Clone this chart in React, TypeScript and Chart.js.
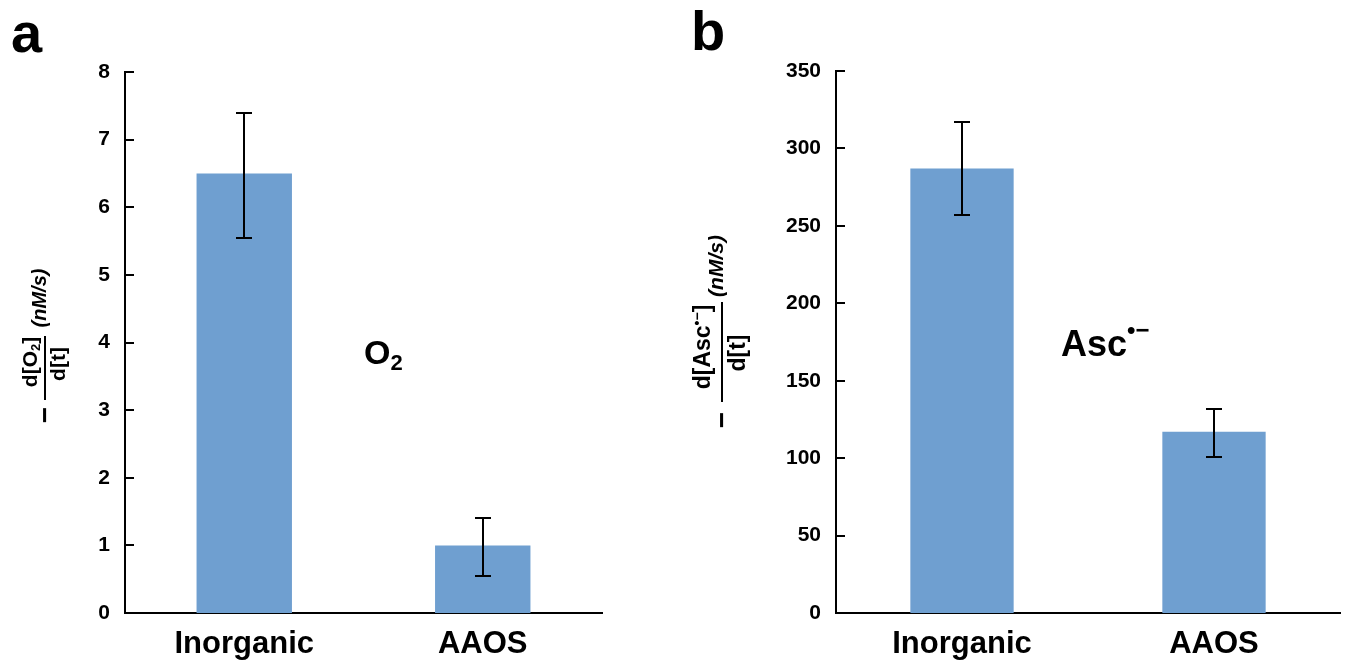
import React, { useEffect, useRef } from "react";
import { Chart, registerables } from "chart.js";

Chart.register(...registerables);

// ---------- data ----------
const categories = ["Inorganic", "AAOS"];

const o2Values = [6.5, 1.0];
const o2ErrLow = [5.55, 0.55];
const o2ErrHigh = [7.4, 1.4];
const o2Max = 8;
const o2Step = 1;

const ascValues = [287, 117];
const ascErrLow = [257, 101];
const ascErrHigh = [317, 132];
const ascMax = 350;
const ascStep = 50;

// ---------- styles ----------
const FONT = "'Liberation Sans', Arial, Helvetica, sans-serif";
const BAR_COLOR = "#6f9fd0";

type Seg = { t: string; size: number; dy?: number; italic?: boolean };

function segFont(s: Seg) {
  return `${s.italic ? "italic " : ""}bold ${s.size}px ${FONT}`;
}
function richWidth(ctx: CanvasRenderingContext2D, segs: Seg[]) {
  let w = 0;
  for (const s of segs) {
    ctx.font = segFont(s);
    w += ctx.measureText(s.t).width;
  }
  return w;
}
function drawRich(ctx: CanvasRenderingContext2D, segs: Seg[], x: number, y: number) {
  let cx = x;
  ctx.textBaseline = "alphabetic";
  ctx.textAlign = "left";
  for (const s of segs) {
    ctx.font = segFont(s);
    ctx.fillText(s.t, cx, y + (s.dy || 0));
    cx += ctx.measureText(s.t).width;
  }
}
function drawRichCentered(ctx: CanvasRenderingContext2D, segs: Seg[], cx: number, y: number) {
  const w = richWidth(ctx, segs);
  drawRich(ctx, segs, cx - w / 2, y);
}

type FracSpec = {
  cx: number;
  cy: number;
  lineHalf: number;
  num: Seg[];
  numU: number;
  numV: number;
  den: Seg[];
  denU: number;
  denV: number;
  unit: Seg[];
  unitU: number;
  unitV: number;
  minusU: number;
  minusSize: number;
};

function drawFraction(ctx: CanvasRenderingContext2D, f: FracSpec) {
  ctx.save();
  ctx.translate(f.cx, f.cy);
  ctx.rotate(-Math.PI / 2);
  ctx.fillStyle = "#000";
  ctx.strokeStyle = "#000";
  ctx.lineWidth = 2;
  ctx.beginPath();
  ctx.moveTo(-f.lineHalf, 0);
  ctx.lineTo(f.lineHalf, 0);
  ctx.stroke();
  drawRichCentered(ctx, f.num, f.numU, f.numV);
  drawRichCentered(ctx, f.den, f.denU, f.denV);
  drawRichCentered(ctx, f.unit, f.unitU, f.unitV);
  drawRichCentered(ctx, [{ t: "\u2212", size: f.minusSize }], f.minusU, f.minusSize * 0.32);
  ctx.restore();
}

type PanelProps = {
  left: number;
  width: number;
  values: number[];
  errLow: number[];
  errHigh: number[];
  max: number;
  step: number;
  pad: { left: number; top: number; right: number };
  barPct: number;
  decorate: (ctx: CanvasRenderingContext2D) => void;
};

function Panel(p: PanelProps) {
  const ref = useRef<HTMLCanvasElement>(null);
  useEffect(() => {
    const canvas = ref.current;
    if (!canvas) return;
    const deco = {
      id: "deco",
      afterDatasetsDraw(chart: any) {
        const ctx: CanvasRenderingContext2D = chart.ctx;
        const y = chart.scales.y;
        const meta = chart.getDatasetMeta(0);
        ctx.save();
        ctx.strokeStyle = "#000";
        ctx.lineWidth = 2;
        meta.data.forEach((bar: any, i: number) => {
          const x = Math.round(bar.x);
          const yh = Math.round(y.getPixelForValue(p.errHigh[i]));
          const yl = Math.round(y.getPixelForValue(p.errLow[i]));
          ctx.beginPath();
          ctx.moveTo(x, yh);
          ctx.lineTo(x, yl);
          ctx.moveTo(x - 8, yh);
          ctx.lineTo(x + 8, yh);
          ctx.moveTo(x - 8, yl);
          ctx.lineTo(x + 8, yl);
          ctx.stroke();
        });
        const ax = chart.chartArea.left;
        y.ticks.forEach((t: any) => {
          const py = Math.round(y.getPixelForValue(t.value));
          ctx.beginPath();
          ctx.moveTo(ax, py);
          ctx.lineTo(ax + 9, py);
          ctx.stroke();
        });
        ctx.restore();
      },
      afterDraw(chart: any) {
        const ctx: CanvasRenderingContext2D = chart.ctx;
        ctx.save();
        p.decorate(ctx);
        ctx.restore();
      },
    };
    const chart = new Chart(canvas, {
      type: "bar",
      data: {
        labels: categories,
        datasets: [
          {
            data: p.values,
            backgroundColor: BAR_COLOR,
            borderWidth: 0,
            barPercentage: p.barPct,
            categoryPercentage: 1,
          },
        ],
      },
      options: {
        animation: false,
        responsive: false,
        maintainAspectRatio: false,
        events: [],
        layout: { padding: { left: p.pad.left, top: p.pad.top, right: p.pad.right, bottom: 0 } },
        plugins: {
          legend: { display: false },
          tooltip: { enabled: false },
          title: { display: false },
        },
        scales: {
          x: {
            grid: { display: false, drawTicks: false },
            border: { display: true, color: "#000", width: 2 },
            ticks: {
              color: "#000",
              font: { family: FONT, size: 31, weight: "bold" },
              padding: 13,
              maxRotation: 0,
            },
            afterFit: (s: any) => {
              s.height = 53;
            },
          },
          y: {
            min: 0,
            max: p.max,
            grid: { display: false, drawTicks: false },
            border: { display: true, color: "#000", width: 2 },
            ticks: {
              stepSize: p.step,
              color: "#000",
              font: { family: FONT, size: 21, weight: "bold" },
              padding: 15,
            },
            afterFit: (s: any) => {
              s.width = 60;
            },
          },
        },
      } as any,
      plugins: [deco],
    });
    return () => chart.destroy();
  }, []);
  return (
    <canvas
      ref={ref}
      width={p.width}
      height={666}
      style={{ position: "absolute", left: p.left, top: 0, width: p.width, height: 666 }}
    />
  );
}

function decorateA(ctx: CanvasRenderingContext2D) {
  ctx.fillStyle = "#000";
  ctx.textBaseline = "alphabetic";
  ctx.textAlign = "left";
  ctx.font = `bold 56px ${FONT}`;
  ctx.fillText("a", 11, 52);
  drawRich(
    ctx,
    [
      { t: "O", size: 34 },
      { t: "2", size: 22, dy: 6 },
    ],
    364,
    364
  );
  drawFraction(ctx, {
    cx: 45,
    cy: 368,
    lineHalf: 32,
    num: [
      { t: "d[O", size: 21 },
      { t: "2", size: 13, dy: 3 },
      { t: "]", size: 21 },
    ],
    numU: 6,
    numV: -8,
    den: [{ t: "d[t]", size: 21 }],
    denU: 4,
    denV: 20,
    unit: [{ t: "(nM/s)", size: 20, italic: true }],
    unitU: 70,
    unitV: 1,
    minusU: -47,
    minusSize: 28,
  });
}

function decorateB(ctx: CanvasRenderingContext2D) {
  ctx.fillStyle = "#000";
  ctx.textBaseline = "alphabetic";
  ctx.textAlign = "left";
  ctx.font = `bold 56px ${FONT}`;
  ctx.fillText("b", 11, 50);
  drawRich(
    ctx,
    [
      { t: "Asc", size: 36 },
      { t: "\u2022\u2212", size: 24, dy: -18 },
    ],
    381,
    356
  );
  drawFraction(ctx, {
    cx: 42,
    cy: 352,
    lineHalf: 50,
    num: [
      { t: "d[Asc", size: 23 },
      { t: "\u2022\u2212", size: 14, dy: -8 },
      { t: "]", size: 23 },
    ],
    numU: 5,
    numV: -12,
    den: [{ t: "d[t]", size: 23 }],
    denU: -1,
    denV: 23,
    unit: [{ t: "(nM/s)", size: 21, italic: true }],
    unitU: 86,
    unitV: 1,
    minusU: -68,
    minusSize: 28,
  });
}

export default function App() {
  return (
    <div
      style={{
        position: "fixed",
        left: 0,
        top: 0,
        width: 1358,
        height: 666,
        background: "#fff",
        overflow: "hidden",
      }}
    >
      <Panel
        left={0}
        width={680}
        values={o2Values}
        errLow={o2ErrLow}
        errHigh={o2ErrHigh}
        max={o2Max}
        step={o2Step}
        pad={{ left: 65, top: 72, right: 78 }}
        barPct={0.4}
        decorate={decorateA}
      />
      <Panel
        left={680}
        width={678}
        values={ascValues}
        errLow={ascErrLow}
        errHigh={ascErrHigh}
        max={ascMax}
        step={ascStep}
        pad={{ left: 96, top: 71, right: 18 }}
        barPct={0.41}
        decorate={decorateB}
      />
    </div>
  );
}
